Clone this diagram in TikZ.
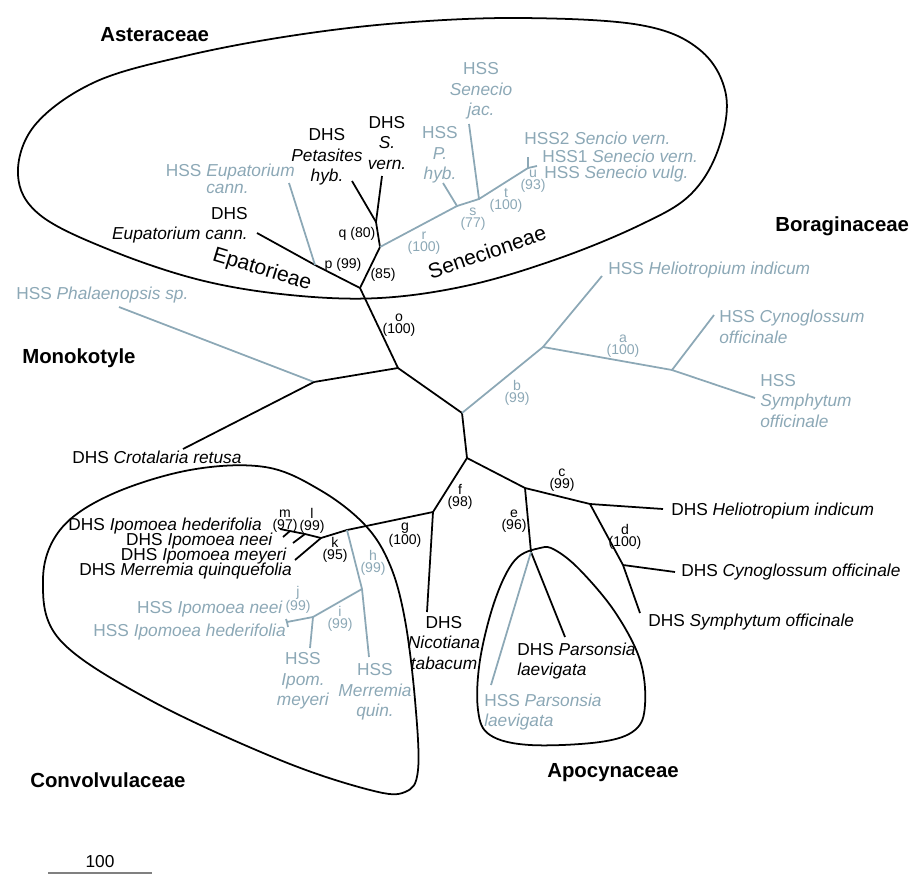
\documentclass[tikz,border=0pt]{standalone}
\usepackage{fontspec}
\setmainfont{Liberation Sans}
\definecolor{hsscol}{RGB}{140,168,182}

\begin{document}
\begin{tikzpicture}[x=0.025cm,y=-0.025cm]
\tikzset{dhs/.style = {draw=black,line width=1.25pt}}
\tikzset{hss/.style = {draw=hsscol,line width=1.25pt}}
\tikzset{hull/.style = {draw=black,line width=1.25pt}}
\tikzset{leaf/.style = {inner sep=0pt,font=\fontsize{12.3}{14.5}\selectfont,align=center}}
\tikzset{leafh/.style = {leaf,text=hsscol}}
\tikzset{boot/.style = {inner sep=0pt,font=\fontsize{10}{8.5}\selectfont,align=center}}
\tikzset{booth/.style = {boot,text=hsscol}}
\tikzset{fam/.style = {inner sep=0pt,anchor=west,font=\fontsize{14.5}{16}\selectfont\bfseries}}
\tikzset{tribe/.style = {inner sep=0pt,font=\fontsize{15}{17}\selectfont}}
\useasboundingbox (0,0) rectangle (913,874);
% HULLS
\draw[hull] plot[smooth cycle,tension=0.6] coordinates {(18,175) (35,125) (95,82) (185,56) (290,36) (400,23) (520,18) (640,25) (700,50) (726,95) (718,150) (690,195) (640,225) (560,258) (470,285) (380,298) (290,295) (200,280) (110,250) (40,215)};
\draw[hull] plot[smooth cycle,tension=0.6] coordinates {(43,580) (60,640) (150,700) (280,760) (370,790) (405,792) (418,770) (415,700) (405,620) (390,565) (365,525) (320,490) (265,467) (190,470) (110,495) (60,530)};
\draw[hull] plot[smooth cycle,tension=0.6] coordinates {(540,548) (515,560) (495,600) (480,660) (478,710) (490,735) (530,745) (600,742) (635,730) (645,705) (640,660) (615,612) (580,570) (555,550)};
% NODES
\coordinate (o1) at (360,288);
\coordinate (n85) at (380,247);
\coordinate (q) at (376,222);
\coordinate (lpet) at (352,181);
\coordinate (lsv) at (382,176);
\coordinate (p) at (315,265);
\coordinate (ldeup) at (257,233);
\coordinate (lheup) at (289,183);
\coordinate (s) at (457,206);
\coordinate (lphyb) at (443,183);
\coordinate (t) at (479,199);
\coordinate (ljac) at (469,124);
\coordinate (u) at (528,168);
\coordinate (lhss2) at (528,157);
\coordinate (lhss1) at (537,166);
\coordinate (n0) at (398,368);
\coordinate (mono) at (314,382);
\coordinate (lphal) at (119,307);
\coordinate (lcrot) at (183,449);
\coordinate (nb) at (462,413);
\coordinate (b) at (543,347);
\coordinate (lhhel) at (602,276);
\coordinate (a) at (672,370);
\coordinate (lhcyn) at (714,315);
\coordinate (lhsym) at (755,398);
\coordinate (nc) at (467,458);
\coordinate (f) at (433,512);
\coordinate (e) at (525,488);
\coordinate (c) at (590,504);
\coordinate (ldhel) at (663,509);
\coordinate (d) at (623,565);
\coordinate (ldcyn) at (675,572);
\coordinate (ldsym) at (640,613);
\coordinate (apo) at (531,552);
\coordinate (ldpar) at (565,637);
\coordinate (lhpar) at (491,685);
\coordinate (lnic) at (427,612);
\coordinate (h) at (347,530);
\coordinate (k) at (321,538);
\coordinate (l) at (305,534);
\coordinate (m) at (290,531);
\coordinate (ldhed) at (280,529);
\coordinate (ldneei) at (283,537);
\coordinate (ldmey) at (293,543);
\coordinate (ldmer) at (295,560);
\coordinate (i) at (362,589);
\coordinate (lhmer) at (369,657);
\coordinate (j2) at (313,617);
\coordinate (lhmey) at (310,648);
\coordinate (j) at (287,622);
\coordinate (lhneei) at (286,619);
\coordinate (lhhed) at (288,627);
% EDGES
\draw[dhs] (o1) -- (n0) -- (mono);
\draw[hss] (mono) -- (lphal);
\draw[dhs] (mono) -- (lcrot);
\draw[dhs] (n0) -- (nb) -- (nc);
\draw[dhs] (o1) -- (p) -- (ldeup);
\draw[hss] (p) -- (lheup);
\draw[dhs] (o1) -- (n85) -- (q) -- (lpet);
\draw[dhs] (q) -- (lsv);
\draw[hss] (n85) -- (s) -- (lphyb);
\draw[hss] (s) -- (t) -- (ljac);
\draw[hss] (t) -- (u) -- (lhss2);
\draw[hss] (u) -- (lhss1);
\draw[hss] (nb) -- (b) -- (lhhel);
\draw[hss] (b) -- (a) -- (lhcyn);
\draw[hss] (a) -- (lhsym);
\draw[dhs] (nc) -- (f) -- (lnic);
\draw[dhs] (nc) -- (e) -- (c) -- (ldhel);
\draw[dhs] (c) -- (d) -- (ldsym);
\draw[dhs] (d) -- (ldcyn);
\draw[dhs] (e) -- (apo) -- (ldpar);
\draw[hss] (apo) -- (lhpar);
\draw[dhs] (f) -- (h) -- (k) -- (l) -- (m) -- (ldhed);
\draw[dhs] (m) -- (ldneei);
\draw[dhs] (l) -- (ldmey);
\draw[dhs] (k) -- (ldmer);
\draw[hss] (h) -- (i) -- (lhmer);
\draw[hss] (i) -- (j2) -- (lhmey);
\draw[hss] (j2) -- (j) -- (lhneei);
\draw[hss] (j) -- (lhhed);
% LEAF LABELS
\node[leaf] (tsv) at (387,143) {DHS\\\textit{S.}\\\textit{vern.}};
\node[leaf] (tpet) at (327,157) {DHS\\\textit{Petasites}\\\textit{hyb.}};
\node[leafh,anchor=east] (theup) at (295,181) {\begin{tabular}{@{}l@{ }l@{}}HSS&\textit{Eupatorium}\\[-2pt]&\textit{cann.}\end{tabular}};
\node[leaf,anchor=east,align=right] (tdeup) at (248,225) {DHS\\\textit{Eupatorium cann.}};
\node[leafh] (tjac) at (481,91) {HSS\\\textit{Senecio}\\\textit{jac.}};
\node[leafh] (tphyb) at (440,155) {HSS\\\textit{P.}\\\textit{hyb.}};
\node[leafh,anchor=west] (thss2) at (524,138) {HSS2 \textit{Sencio vern.}};
\node[leafh,anchor=west] (thss1) at (542,156) {HSS1 \textit{Senecio vern.}};
\node[leafh,anchor=west] (tvulg) at (544,174) {HSS \textit{Senecio vulg.}};
\node[leafh,anchor=west] (tphal) at (16,295) {HSS \textit{Phalaenopsis sp.}};
\node[leaf,anchor=west] (tcrot) at (72,457) {DHS \textit{Crotalaria retusa}};
\node[leafh,anchor=west] (thhel) at (608,270) {HSS \textit{Heliotropium indicum}};
\node[leafh,anchor=west,align=left] (thcyn) at (719,327) {HSS \textit{Cynoglossum}\\\textit{officinale}};
\node[leafh,anchor=west,align=left] (thsym) at (760,401) {HSS\\\textit{Symphytum}\\\textit{officinale}};
\node[leaf,anchor=west] (tdhel) at (671,511) {DHS \textit{Heliotropium indicum}};
\node[leaf,anchor=west] (tdcyn) at (681,572) {DHS \textit{Cynoglossum officinale}};
\node[leaf,anchor=west] (tdsym) at (648,622) {DHS \textit{Symphytum officinale}};
\node[leaf,anchor=west,align=left] (tdpar) at (517,661) {DHS \textit{Parsonsia}\\\textit{laevigata}};
\node[leafh,anchor=west,align=left] (thpar) at (484,712) {HSS \textit{Parsonsia}\\\textit{laevigata}};
\node[leaf] (tnic) at (444,643) {DHS\\\textit{Nicotiana}\\\textit{tabacum}};
\node[leaf,anchor=east] (tdhed) at (262,526) {DHS \textit{Ipomoea hederifolia}};
\node[leaf,anchor=east] (tdneei) at (273,541) {DHS \textit{Ipomoea neei}};
\node[leaf,anchor=east] (tdmey) at (287,556) {DHS \textit{Ipomoea meyeri}};
\node[leaf,anchor=east] (tdmer) at (292,571) {DHS \textit{Merremia quinquefolia}};
\node[leafh,anchor=east] (thneei) at (283,609) {HSS \textit{Ipomoea neei}};
\node[leafh,anchor=east] (thhed) at (286,632) {HSS \textit{Ipomoea hederifolia}};
\node[leafh] (thmey) at (303,681) {HSS\\\textit{Ipom.}\\\textit{meyeri}};
\node[leafh] (thmer) at (375,692) {HSS\\\textit{Merremia}\\\textit{quin.}};
% SUPPORT LABELS
\node[boot] (bq) at (357,234) {q (80)};
\node[boot] (bp) at (343,265) {p (99)};
\node[boot] (b85) at (383,275) {(85)};
\node[booth] (br) at (424,243) {r\\(100)};
\node[booth] (bs) at (473,219) {s\\(77)};
\node[booth] (bt) at (506,200) {t\\(100)};
\node[booth] (bu) at (533,181) {u\\(93)};
\node[boot] (bo) at (399,325) {o\\(100)};
\node[booth] (ba) at (623,346) {a\\(100)};
\node[booth] (bb) at (517,393) {b\\(99)};
\node[boot] (bc) at (562,480) {c\\(99)};
\node[boot] (bd) at (625,537) {d\\(100)};
\node[boot] (be) at (514,521) {e\\(96)};
\node[boot] (bf) at (460,497) {f\\(98)};
\node[boot] (bg) at (405,535) {g\\(100)};
\node[boot] (bk) at (335,550) {k\\(95)};
\node[booth] (bh) at (373,563) {h\\(99)};
\node[boot] (bl) at (312,521) {l\\(99)};
\node[boot] (bm) at (285,521) {m\\(97)};
\node[booth] (bj) at (298,600) {j\\(99)};
\node[booth] (bi) at (340,619) {i\\(99)};
% GROUPS
\node[fam] (aster) at (100,35) {Asteraceae};
\node[fam] (borag) at (775,226) {Boraginaceae};
\node[fam] (monok) at (22,358) {Monokotyle};
\node[fam] (convo) at (30,780) {Convolvulaceae};
\node[fam] (apocy) at (547,773) {Apocynaceae};
\node[tribe,rotate=-17] (epat) at (262,270) {Epatorieae};
\node[tribe,rotate=19] (senec) at (487,252) {Senecioneae};
% SCALE
\coordinate (sc1) at (48,873);
\coordinate (sc2) at (152,873);
\draw[gray,line width=0.8pt] (sc1) -- (sc2);
\node[leaf] (scl) at (100,862) {100};
\end{tikzpicture}
\end{document}
